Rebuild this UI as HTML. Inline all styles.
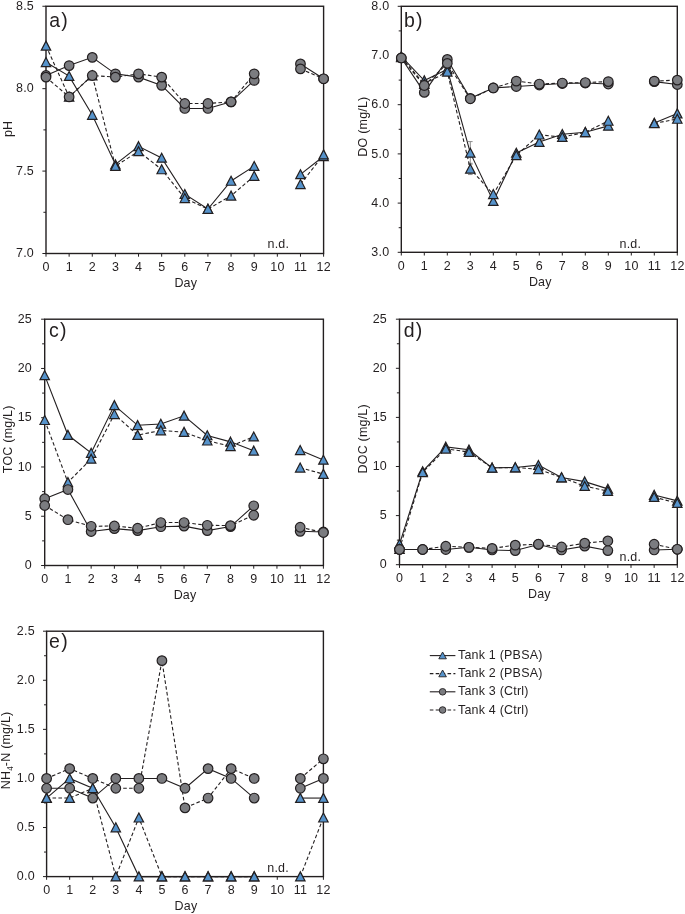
<!DOCTYPE html>
<html><head><meta charset="utf-8"><title>Figure</title>
<style>
html,body{margin:0;padding:0;background:#fff;}
body{width:685px;height:914px;overflow:hidden;font-family:"Liberation Sans", sans-serif;}
svg{display:block;will-change:transform;}
</style></head><body>
<svg width="685" height="914" viewBox="0 0 685 914" font-family='"Liberation Sans", sans-serif' font-size="12.5" letter-spacing="0.2" fill="#231f20"><g><rect x="46" y="6.25" width="277.6" height="247.25" fill="none" stroke="#231f20" stroke-width="1.4"/><line x1="42.4" y1="253.5" x2="46" y2="253.5" stroke="#231f20" stroke-width="1"/><text transform="translate(34 257.25) scale(1 1.04)" text-anchor="end">7.0</text><line x1="43.4" y1="212.29" x2="46" y2="212.29" stroke="#231f20" stroke-width="1"/><line x1="42.4" y1="171.08" x2="46" y2="171.08" stroke="#231f20" stroke-width="1"/><text transform="translate(34 174.83) scale(1 1.04)" text-anchor="end">7.5</text><line x1="43.4" y1="129.88" x2="46" y2="129.88" stroke="#231f20" stroke-width="1"/><line x1="42.4" y1="88.67" x2="46" y2="88.67" stroke="#231f20" stroke-width="1"/><text transform="translate(34 92.42) scale(1 1.04)" text-anchor="end">8.0</text><line x1="43.4" y1="47.46" x2="46" y2="47.46" stroke="#231f20" stroke-width="1"/><line x1="42.4" y1="6.25" x2="46" y2="6.25" stroke="#231f20" stroke-width="1"/><text transform="translate(34 10) scale(1 1.04)" text-anchor="end">8.5</text><line x1="46" y1="253.5" x2="46" y2="256.7" stroke="#231f20" stroke-width="1"/><text transform="translate(46.1 270.9) scale(1 1.04)" text-anchor="middle">0</text><line x1="69.13" y1="253.5" x2="69.13" y2="256.7" stroke="#231f20" stroke-width="1"/><text transform="translate(69.23 270.9) scale(1 1.04)" text-anchor="middle">1</text><line x1="92.27" y1="253.5" x2="92.27" y2="256.7" stroke="#231f20" stroke-width="1"/><text transform="translate(92.37 270.9) scale(1 1.04)" text-anchor="middle">2</text><line x1="115.4" y1="253.5" x2="115.4" y2="256.7" stroke="#231f20" stroke-width="1"/><text transform="translate(115.5 270.9) scale(1 1.04)" text-anchor="middle">3</text><line x1="138.53" y1="253.5" x2="138.53" y2="256.7" stroke="#231f20" stroke-width="1"/><text transform="translate(138.63 270.9) scale(1 1.04)" text-anchor="middle">4</text><line x1="161.67" y1="253.5" x2="161.67" y2="256.7" stroke="#231f20" stroke-width="1"/><text transform="translate(161.77 270.9) scale(1 1.04)" text-anchor="middle">5</text><line x1="184.8" y1="253.5" x2="184.8" y2="256.7" stroke="#231f20" stroke-width="1"/><text transform="translate(184.9 270.9) scale(1 1.04)" text-anchor="middle">6</text><line x1="207.93" y1="253.5" x2="207.93" y2="256.7" stroke="#231f20" stroke-width="1"/><text transform="translate(208.03 270.9) scale(1 1.04)" text-anchor="middle">7</text><line x1="231.07" y1="253.5" x2="231.07" y2="256.7" stroke="#231f20" stroke-width="1"/><text transform="translate(231.17 270.9) scale(1 1.04)" text-anchor="middle">8</text><line x1="254.2" y1="253.5" x2="254.2" y2="256.7" stroke="#231f20" stroke-width="1"/><text transform="translate(254.3 270.9) scale(1 1.04)" text-anchor="middle">9</text><line x1="277.33" y1="253.5" x2="277.33" y2="256.7" stroke="#231f20" stroke-width="1"/><text transform="translate(277.43 270.9) scale(1 1.04)" text-anchor="middle">10</text><line x1="300.47" y1="253.5" x2="300.47" y2="256.7" stroke="#231f20" stroke-width="1"/><text transform="translate(300.57 270.9) scale(1 1.04)" text-anchor="middle">11</text><line x1="323.6" y1="253.5" x2="323.6" y2="256.7" stroke="#231f20" stroke-width="1"/><text transform="translate(323.7 270.9) scale(1 1.04)" text-anchor="middle">12</text><text transform="translate(185.8 286.9) scale(1 1.04)" text-anchor="middle">Day</text><text transform="translate(12.2 128.9) rotate(-90) scale(1 1.04)" text-anchor="middle">pH</text><text transform="translate(49.2 27.1) scale(1 1.04)" font-size="19.5" letter-spacing="1.2">a)</text><text transform="translate(267.5 247.8) scale(1 1.04)">n.d.</text><path d="M46 62.29 L69.13 76.14 L92.27 115.04 L115.4 164.49 L138.53 146.36 L161.67 157.9 L184.8 194.16 L207.93 209 L231.07 180.97 L254.2 166.14" fill="none" stroke="#231f20" stroke-width="1.1"/><path d="M300.47 174.38 L323.6 156.25" fill="none" stroke="#231f20" stroke-width="1.1"/><path d="M46 45.81 L69.13 96.91 L92.27 75.48 L115.4 166.14 L138.53 151.3 L161.67 169.44 L184.8 198.28 L207.93 209 L231.07 195.81 L254.2 176.03" fill="none" stroke="#231f20" stroke-width="1.1" stroke-dasharray="3.6 2.3"/><path d="M300.47 184.27 L323.6 154.6" fill="none" stroke="#231f20" stroke-width="1.1" stroke-dasharray="3.6 2.3"/><path d="M46 75.48 L69.13 65.59 L92.27 57.35 L115.4 73.83 L138.53 77.13 L161.67 85.37 L184.8 108.45 L207.93 108.45 L231.07 101.85 L254.2 80.42" fill="none" stroke="#231f20" stroke-width="1.1"/><path d="M300.47 63.94 L323.6 78.78" fill="none" stroke="#231f20" stroke-width="1.1"/><path d="M46 77.13 L69.13 96.91 L92.27 75.48 L115.4 77.13 L138.53 73.83 L161.67 77.13 L184.8 103.5 L207.93 103.5 L231.07 101.85 L254.2 73.83" fill="none" stroke="#231f20" stroke-width="1.1" stroke-dasharray="3.6 2.3"/><path d="M300.47 68.89 L323.6 78.78" fill="none" stroke="#231f20" stroke-width="1.1" stroke-dasharray="3.6 2.3"/><path d="M46 57.59L50.7 66.59L41.3 66.59Z" fill="#5693cb" stroke="#231f20" stroke-width="1.2" stroke-linejoin="miter"/><path d="M69.13 71.44L73.83 80.44L64.43 80.44Z" fill="#5693cb" stroke="#231f20" stroke-width="1.2" stroke-linejoin="miter"/><path d="M92.27 110.34L96.97 119.34L87.57 119.34Z" fill="#5693cb" stroke="#231f20" stroke-width="1.2" stroke-linejoin="miter"/><path d="M115.4 159.79L120.1 168.79L110.7 168.79Z" fill="#5693cb" stroke="#231f20" stroke-width="1.2" stroke-linejoin="miter"/><path d="M138.53 141.66L143.23 150.66L133.83 150.66Z" fill="#5693cb" stroke="#231f20" stroke-width="1.2" stroke-linejoin="miter"/><path d="M161.67 153.2L166.37 162.2L156.97 162.2Z" fill="#5693cb" stroke="#231f20" stroke-width="1.2" stroke-linejoin="miter"/><path d="M184.8 189.46L189.5 198.46L180.1 198.46Z" fill="#5693cb" stroke="#231f20" stroke-width="1.2" stroke-linejoin="miter"/><path d="M207.93 204.3L212.63 213.3L203.23 213.3Z" fill="#5693cb" stroke="#231f20" stroke-width="1.2" stroke-linejoin="miter"/><path d="M231.07 176.27L235.77 185.27L226.37 185.27Z" fill="#5693cb" stroke="#231f20" stroke-width="1.2" stroke-linejoin="miter"/><path d="M254.2 161.44L258.9 170.44L249.5 170.44Z" fill="#5693cb" stroke="#231f20" stroke-width="1.2" stroke-linejoin="miter"/><path d="M300.47 169.68L305.17 178.68L295.77 178.68Z" fill="#5693cb" stroke="#231f20" stroke-width="1.2" stroke-linejoin="miter"/><path d="M323.6 151.55L328.3 160.55L318.9 160.55Z" fill="#5693cb" stroke="#231f20" stroke-width="1.2" stroke-linejoin="miter"/><path d="M46 41.11L50.7 50.11L41.3 50.11Z" fill="#5693cb" stroke="#231f20" stroke-width="1.2" stroke-linejoin="miter"/><path d="M69.13 92.21L73.83 101.21L64.43 101.21Z" fill="#5693cb" stroke="#231f20" stroke-width="1.2" stroke-linejoin="miter"/><path d="M92.27 70.78L96.97 79.78L87.57 79.78Z" fill="#5693cb" stroke="#231f20" stroke-width="1.2" stroke-linejoin="miter"/><path d="M115.4 161.44L120.1 170.44L110.7 170.44Z" fill="#5693cb" stroke="#231f20" stroke-width="1.2" stroke-linejoin="miter"/><path d="M138.53 146.6L143.23 155.6L133.83 155.6Z" fill="#5693cb" stroke="#231f20" stroke-width="1.2" stroke-linejoin="miter"/><path d="M161.67 164.74L166.37 173.74L156.97 173.74Z" fill="#5693cb" stroke="#231f20" stroke-width="1.2" stroke-linejoin="miter"/><path d="M184.8 193.58L189.5 202.58L180.1 202.58Z" fill="#5693cb" stroke="#231f20" stroke-width="1.2" stroke-linejoin="miter"/><path d="M207.93 204.3L212.63 213.3L203.23 213.3Z" fill="#5693cb" stroke="#231f20" stroke-width="1.2" stroke-linejoin="miter"/><path d="M231.07 191.11L235.77 200.11L226.37 200.11Z" fill="#5693cb" stroke="#231f20" stroke-width="1.2" stroke-linejoin="miter"/><path d="M254.2 171.33L258.9 180.33L249.5 180.33Z" fill="#5693cb" stroke="#231f20" stroke-width="1.2" stroke-linejoin="miter"/><path d="M300.47 179.57L305.17 188.57L295.77 188.57Z" fill="#5693cb" stroke="#231f20" stroke-width="1.2" stroke-linejoin="miter"/><path d="M323.6 149.9L328.3 158.9L318.9 158.9Z" fill="#5693cb" stroke="#231f20" stroke-width="1.2" stroke-linejoin="miter"/><circle cx="46" cy="75.48" r="4.8" fill="#7b7c80" stroke="#231f20" stroke-width="1.2"/><circle cx="69.13" cy="65.59" r="4.8" fill="#7b7c80" stroke="#231f20" stroke-width="1.2"/><circle cx="92.27" cy="57.35" r="4.8" fill="#7b7c80" stroke="#231f20" stroke-width="1.2"/><circle cx="115.4" cy="73.83" r="4.8" fill="#7b7c80" stroke="#231f20" stroke-width="1.2"/><circle cx="138.53" cy="77.13" r="4.8" fill="#7b7c80" stroke="#231f20" stroke-width="1.2"/><circle cx="161.67" cy="85.37" r="4.8" fill="#7b7c80" stroke="#231f20" stroke-width="1.2"/><circle cx="184.8" cy="108.45" r="4.8" fill="#7b7c80" stroke="#231f20" stroke-width="1.2"/><circle cx="207.93" cy="108.45" r="4.8" fill="#7b7c80" stroke="#231f20" stroke-width="1.2"/><circle cx="231.07" cy="101.85" r="4.8" fill="#7b7c80" stroke="#231f20" stroke-width="1.2"/><circle cx="254.2" cy="80.42" r="4.8" fill="#7b7c80" stroke="#231f20" stroke-width="1.2"/><circle cx="300.47" cy="63.94" r="4.8" fill="#7b7c80" stroke="#231f20" stroke-width="1.2"/><circle cx="323.6" cy="78.78" r="4.8" fill="#7b7c80" stroke="#231f20" stroke-width="1.2"/><circle cx="46" cy="77.13" r="4.8" fill="#7b7c80" stroke="#231f20" stroke-width="1.2"/><circle cx="69.13" cy="96.91" r="4.8" fill="#7b7c80" stroke="#231f20" stroke-width="1.2"/><circle cx="92.27" cy="75.48" r="4.8" fill="#7b7c80" stroke="#231f20" stroke-width="1.2"/><circle cx="115.4" cy="77.13" r="4.8" fill="#7b7c80" stroke="#231f20" stroke-width="1.2"/><circle cx="138.53" cy="73.83" r="4.8" fill="#7b7c80" stroke="#231f20" stroke-width="1.2"/><circle cx="161.67" cy="77.13" r="4.8" fill="#7b7c80" stroke="#231f20" stroke-width="1.2"/><circle cx="184.8" cy="103.5" r="4.8" fill="#7b7c80" stroke="#231f20" stroke-width="1.2"/><circle cx="207.93" cy="103.5" r="4.8" fill="#7b7c80" stroke="#231f20" stroke-width="1.2"/><circle cx="231.07" cy="101.85" r="4.8" fill="#7b7c80" stroke="#231f20" stroke-width="1.2"/><circle cx="254.2" cy="73.83" r="4.8" fill="#7b7c80" stroke="#231f20" stroke-width="1.2"/><circle cx="300.47" cy="68.89" r="4.8" fill="#7b7c80" stroke="#231f20" stroke-width="1.2"/><circle cx="323.6" cy="78.78" r="4.8" fill="#7b7c80" stroke="#231f20" stroke-width="1.2"/></g><g><rect x="401.3" y="6.3" width="276" height="246" fill="none" stroke="#231f20" stroke-width="1.4"/><line x1="397.7" y1="252.3" x2="401.3" y2="252.3" stroke="#231f20" stroke-width="1"/><text transform="translate(389.3 256.05) scale(1 1.04)" text-anchor="end">3.0</text><line x1="398.7" y1="227.7" x2="401.3" y2="227.7" stroke="#231f20" stroke-width="1"/><line x1="397.7" y1="203.1" x2="401.3" y2="203.1" stroke="#231f20" stroke-width="1"/><text transform="translate(389.3 206.85) scale(1 1.04)" text-anchor="end">4.0</text><line x1="398.7" y1="178.5" x2="401.3" y2="178.5" stroke="#231f20" stroke-width="1"/><line x1="397.7" y1="153.9" x2="401.3" y2="153.9" stroke="#231f20" stroke-width="1"/><text transform="translate(389.3 157.65) scale(1 1.04)" text-anchor="end">5.0</text><line x1="398.7" y1="129.3" x2="401.3" y2="129.3" stroke="#231f20" stroke-width="1"/><line x1="397.7" y1="104.7" x2="401.3" y2="104.7" stroke="#231f20" stroke-width="1"/><text transform="translate(389.3 108.45) scale(1 1.04)" text-anchor="end">6.0</text><line x1="398.7" y1="80.1" x2="401.3" y2="80.1" stroke="#231f20" stroke-width="1"/><line x1="397.7" y1="55.5" x2="401.3" y2="55.5" stroke="#231f20" stroke-width="1"/><text transform="translate(389.3 59.25) scale(1 1.04)" text-anchor="end">7.0</text><line x1="398.7" y1="30.9" x2="401.3" y2="30.9" stroke="#231f20" stroke-width="1"/><line x1="397.7" y1="6.3" x2="401.3" y2="6.3" stroke="#231f20" stroke-width="1"/><text transform="translate(389.3 10.05) scale(1 1.04)" text-anchor="end">8.0</text><line x1="401.3" y1="252.3" x2="401.3" y2="255.5" stroke="#231f20" stroke-width="1"/><text transform="translate(401.4 269.7) scale(1 1.04)" text-anchor="middle">0</text><line x1="424.3" y1="252.3" x2="424.3" y2="255.5" stroke="#231f20" stroke-width="1"/><text transform="translate(424.4 269.7) scale(1 1.04)" text-anchor="middle">1</text><line x1="447.3" y1="252.3" x2="447.3" y2="255.5" stroke="#231f20" stroke-width="1"/><text transform="translate(447.4 269.7) scale(1 1.04)" text-anchor="middle">2</text><line x1="470.3" y1="252.3" x2="470.3" y2="255.5" stroke="#231f20" stroke-width="1"/><text transform="translate(470.4 269.7) scale(1 1.04)" text-anchor="middle">3</text><line x1="493.3" y1="252.3" x2="493.3" y2="255.5" stroke="#231f20" stroke-width="1"/><text transform="translate(493.4 269.7) scale(1 1.04)" text-anchor="middle">4</text><line x1="516.3" y1="252.3" x2="516.3" y2="255.5" stroke="#231f20" stroke-width="1"/><text transform="translate(516.4 269.7) scale(1 1.04)" text-anchor="middle">5</text><line x1="539.3" y1="252.3" x2="539.3" y2="255.5" stroke="#231f20" stroke-width="1"/><text transform="translate(539.4 269.7) scale(1 1.04)" text-anchor="middle">6</text><line x1="562.3" y1="252.3" x2="562.3" y2="255.5" stroke="#231f20" stroke-width="1"/><text transform="translate(562.4 269.7) scale(1 1.04)" text-anchor="middle">7</text><line x1="585.3" y1="252.3" x2="585.3" y2="255.5" stroke="#231f20" stroke-width="1"/><text transform="translate(585.4 269.7) scale(1 1.04)" text-anchor="middle">8</text><line x1="608.3" y1="252.3" x2="608.3" y2="255.5" stroke="#231f20" stroke-width="1"/><text transform="translate(608.4 269.7) scale(1 1.04)" text-anchor="middle">9</text><line x1="631.3" y1="252.3" x2="631.3" y2="255.5" stroke="#231f20" stroke-width="1"/><text transform="translate(631.4 269.7) scale(1 1.04)" text-anchor="middle">10</text><line x1="654.3" y1="252.3" x2="654.3" y2="255.5" stroke="#231f20" stroke-width="1"/><text transform="translate(654.4 269.7) scale(1 1.04)" text-anchor="middle">11</text><line x1="677.3" y1="252.3" x2="677.3" y2="255.5" stroke="#231f20" stroke-width="1"/><text transform="translate(677.4 269.7) scale(1 1.04)" text-anchor="middle">12</text><text transform="translate(540.3 285.7) scale(1 1.04)" text-anchor="middle">Day</text><text transform="translate(366.6 126.6) rotate(-90) scale(1 1.04)" text-anchor="middle">DO (mg/L)</text><text transform="translate(404 26.6) scale(1 1.04)" font-size="19.5" letter-spacing="1.2">b)</text><text transform="translate(619.5 248) scale(1 1.04)">n.d.</text><path d="M470.3 164.23V141.6M468 141.6H472.6M468 164.23H472.6" stroke="#8c8c8c" stroke-width="1" fill="none"/><path d="M470.3 174.56V163.25M468 163.25H472.6M468 174.56H472.6" stroke="#8c8c8c" stroke-width="1" fill="none"/><path d="M401.3 56.48 L424.3 80.59 L447.3 69.28 L470.3 152.92 L493.3 201.13 L516.3 152.92 L539.3 142.09 L562.3 134.22 L585.3 132.25 L608.3 125.86" fill="none" stroke="#231f20" stroke-width="1.1"/><path d="M654.3 122.9 L677.3 113.56" fill="none" stroke="#231f20" stroke-width="1.1"/><path d="M401.3 57.47 L424.3 84.04 L447.3 71.74 L470.3 168.91 L493.3 194.24 L516.3 155.38 L539.3 134.71 L562.3 137.17 L585.3 132.25 L608.3 120.94" fill="none" stroke="#231f20" stroke-width="1.1" stroke-dasharray="3.6 2.3"/><path d="M654.3 123.4 L677.3 118.97" fill="none" stroke="#231f20" stroke-width="1.1" stroke-dasharray="3.6 2.3"/><path d="M401.3 57.96 L424.3 92.4 L447.3 59.44 L470.3 98.3 L493.3 87.97 L516.3 86.5 L539.3 85.02 L562.3 83.54 L585.3 83.05 L608.3 84.04" fill="none" stroke="#231f20" stroke-width="1.1"/><path d="M654.3 81.58 L677.3 84.53" fill="none" stroke="#231f20" stroke-width="1.1"/><path d="M401.3 57.96 L424.3 85.51 L447.3 63.37 L470.3 98.8 L493.3 87.97 L516.3 81.08 L539.3 84.04 L562.3 83.05 L585.3 82.56 L608.3 81.58" fill="none" stroke="#231f20" stroke-width="1.1" stroke-dasharray="3.6 2.3"/><path d="M654.3 81.08 L677.3 80.1" fill="none" stroke="#231f20" stroke-width="1.1" stroke-dasharray="3.6 2.3"/><path d="M401.3 51.78L406 60.78L396.6 60.78Z" fill="#5693cb" stroke="#231f20" stroke-width="1.2" stroke-linejoin="miter"/><path d="M424.3 75.89L429 84.89L419.6 84.89Z" fill="#5693cb" stroke="#231f20" stroke-width="1.2" stroke-linejoin="miter"/><path d="M447.3 64.58L452 73.58L442.6 73.58Z" fill="#5693cb" stroke="#231f20" stroke-width="1.2" stroke-linejoin="miter"/><path d="M470.3 148.22L475 157.22L465.6 157.22Z" fill="#5693cb" stroke="#231f20" stroke-width="1.2" stroke-linejoin="miter"/><path d="M493.3 196.43L498 205.43L488.6 205.43Z" fill="#5693cb" stroke="#231f20" stroke-width="1.2" stroke-linejoin="miter"/><path d="M516.3 148.22L521 157.22L511.6 157.22Z" fill="#5693cb" stroke="#231f20" stroke-width="1.2" stroke-linejoin="miter"/><path d="M539.3 137.39L544 146.39L534.6 146.39Z" fill="#5693cb" stroke="#231f20" stroke-width="1.2" stroke-linejoin="miter"/><path d="M562.3 129.52L567 138.52L557.6 138.52Z" fill="#5693cb" stroke="#231f20" stroke-width="1.2" stroke-linejoin="miter"/><path d="M585.3 127.55L590 136.55L580.6 136.55Z" fill="#5693cb" stroke="#231f20" stroke-width="1.2" stroke-linejoin="miter"/><path d="M608.3 121.16L613 130.16L603.6 130.16Z" fill="#5693cb" stroke="#231f20" stroke-width="1.2" stroke-linejoin="miter"/><path d="M654.3 118.2L659 127.2L649.6 127.2Z" fill="#5693cb" stroke="#231f20" stroke-width="1.2" stroke-linejoin="miter"/><path d="M677.3 108.86L682 117.86L672.6 117.86Z" fill="#5693cb" stroke="#231f20" stroke-width="1.2" stroke-linejoin="miter"/><path d="M401.3 52.77L406 61.77L396.6 61.77Z" fill="#5693cb" stroke="#231f20" stroke-width="1.2" stroke-linejoin="miter"/><path d="M424.3 79.34L429 88.34L419.6 88.34Z" fill="#5693cb" stroke="#231f20" stroke-width="1.2" stroke-linejoin="miter"/><path d="M447.3 67.04L452 76.04L442.6 76.04Z" fill="#5693cb" stroke="#231f20" stroke-width="1.2" stroke-linejoin="miter"/><path d="M470.3 164.21L475 173.21L465.6 173.21Z" fill="#5693cb" stroke="#231f20" stroke-width="1.2" stroke-linejoin="miter"/><path d="M493.3 189.54L498 198.54L488.6 198.54Z" fill="#5693cb" stroke="#231f20" stroke-width="1.2" stroke-linejoin="miter"/><path d="M516.3 150.68L521 159.68L511.6 159.68Z" fill="#5693cb" stroke="#231f20" stroke-width="1.2" stroke-linejoin="miter"/><path d="M539.3 130.01L544 139.01L534.6 139.01Z" fill="#5693cb" stroke="#231f20" stroke-width="1.2" stroke-linejoin="miter"/><path d="M562.3 132.47L567 141.47L557.6 141.47Z" fill="#5693cb" stroke="#231f20" stroke-width="1.2" stroke-linejoin="miter"/><path d="M585.3 127.55L590 136.55L580.6 136.55Z" fill="#5693cb" stroke="#231f20" stroke-width="1.2" stroke-linejoin="miter"/><path d="M608.3 116.24L613 125.24L603.6 125.24Z" fill="#5693cb" stroke="#231f20" stroke-width="1.2" stroke-linejoin="miter"/><path d="M654.3 118.7L659 127.7L649.6 127.7Z" fill="#5693cb" stroke="#231f20" stroke-width="1.2" stroke-linejoin="miter"/><path d="M677.3 114.27L682 123.27L672.6 123.27Z" fill="#5693cb" stroke="#231f20" stroke-width="1.2" stroke-linejoin="miter"/><circle cx="401.3" cy="57.96" r="4.8" fill="#7b7c80" stroke="#231f20" stroke-width="1.2"/><circle cx="424.3" cy="92.4" r="4.8" fill="#7b7c80" stroke="#231f20" stroke-width="1.2"/><circle cx="447.3" cy="59.44" r="4.8" fill="#7b7c80" stroke="#231f20" stroke-width="1.2"/><circle cx="470.3" cy="98.3" r="4.8" fill="#7b7c80" stroke="#231f20" stroke-width="1.2"/><circle cx="493.3" cy="87.97" r="4.8" fill="#7b7c80" stroke="#231f20" stroke-width="1.2"/><circle cx="516.3" cy="86.5" r="4.8" fill="#7b7c80" stroke="#231f20" stroke-width="1.2"/><circle cx="539.3" cy="85.02" r="4.8" fill="#7b7c80" stroke="#231f20" stroke-width="1.2"/><circle cx="562.3" cy="83.54" r="4.8" fill="#7b7c80" stroke="#231f20" stroke-width="1.2"/><circle cx="585.3" cy="83.05" r="4.8" fill="#7b7c80" stroke="#231f20" stroke-width="1.2"/><circle cx="608.3" cy="84.04" r="4.8" fill="#7b7c80" stroke="#231f20" stroke-width="1.2"/><circle cx="654.3" cy="81.58" r="4.8" fill="#7b7c80" stroke="#231f20" stroke-width="1.2"/><circle cx="677.3" cy="84.53" r="4.8" fill="#7b7c80" stroke="#231f20" stroke-width="1.2"/><circle cx="401.3" cy="57.96" r="4.8" fill="#7b7c80" stroke="#231f20" stroke-width="1.2"/><circle cx="424.3" cy="85.51" r="4.8" fill="#7b7c80" stroke="#231f20" stroke-width="1.2"/><circle cx="447.3" cy="63.37" r="4.8" fill="#7b7c80" stroke="#231f20" stroke-width="1.2"/><circle cx="470.3" cy="98.8" r="4.8" fill="#7b7c80" stroke="#231f20" stroke-width="1.2"/><circle cx="493.3" cy="87.97" r="4.8" fill="#7b7c80" stroke="#231f20" stroke-width="1.2"/><circle cx="516.3" cy="81.08" r="4.8" fill="#7b7c80" stroke="#231f20" stroke-width="1.2"/><circle cx="539.3" cy="84.04" r="4.8" fill="#7b7c80" stroke="#231f20" stroke-width="1.2"/><circle cx="562.3" cy="83.05" r="4.8" fill="#7b7c80" stroke="#231f20" stroke-width="1.2"/><circle cx="585.3" cy="82.56" r="4.8" fill="#7b7c80" stroke="#231f20" stroke-width="1.2"/><circle cx="608.3" cy="81.58" r="4.8" fill="#7b7c80" stroke="#231f20" stroke-width="1.2"/><circle cx="654.3" cy="81.08" r="4.8" fill="#7b7c80" stroke="#231f20" stroke-width="1.2"/><circle cx="677.3" cy="80.1" r="4.8" fill="#7b7c80" stroke="#231f20" stroke-width="1.2"/></g><g><rect x="44.7" y="319.2" width="278.7" height="246.3" fill="none" stroke="#231f20" stroke-width="1.4"/><line x1="41.1" y1="565.5" x2="44.7" y2="565.5" stroke="#231f20" stroke-width="1"/><text transform="translate(32 569.25) scale(1 1.04)" text-anchor="end">0</text><line x1="42.1" y1="540.87" x2="44.7" y2="540.87" stroke="#231f20" stroke-width="1"/><line x1="41.1" y1="516.24" x2="44.7" y2="516.24" stroke="#231f20" stroke-width="1"/><text transform="translate(32 519.99) scale(1 1.04)" text-anchor="end">5</text><line x1="42.1" y1="491.61" x2="44.7" y2="491.61" stroke="#231f20" stroke-width="1"/><line x1="41.1" y1="466.98" x2="44.7" y2="466.98" stroke="#231f20" stroke-width="1"/><text transform="translate(32 470.73) scale(1 1.04)" text-anchor="end">10</text><line x1="42.1" y1="442.35" x2="44.7" y2="442.35" stroke="#231f20" stroke-width="1"/><line x1="41.1" y1="417.72" x2="44.7" y2="417.72" stroke="#231f20" stroke-width="1"/><text transform="translate(32 421.47) scale(1 1.04)" text-anchor="end">15</text><line x1="42.1" y1="393.09" x2="44.7" y2="393.09" stroke="#231f20" stroke-width="1"/><line x1="41.1" y1="368.46" x2="44.7" y2="368.46" stroke="#231f20" stroke-width="1"/><text transform="translate(32 372.21) scale(1 1.04)" text-anchor="end">20</text><line x1="42.1" y1="343.83" x2="44.7" y2="343.83" stroke="#231f20" stroke-width="1"/><line x1="41.1" y1="319.2" x2="44.7" y2="319.2" stroke="#231f20" stroke-width="1"/><text transform="translate(32 322.95) scale(1 1.04)" text-anchor="end">25</text><line x1="44.7" y1="565.5" x2="44.7" y2="568.7" stroke="#231f20" stroke-width="1"/><text transform="translate(44.8 582.9) scale(1 1.04)" text-anchor="middle">0</text><line x1="67.92" y1="565.5" x2="67.92" y2="568.7" stroke="#231f20" stroke-width="1"/><text transform="translate(68.02 582.9) scale(1 1.04)" text-anchor="middle">1</text><line x1="91.15" y1="565.5" x2="91.15" y2="568.7" stroke="#231f20" stroke-width="1"/><text transform="translate(91.25 582.9) scale(1 1.04)" text-anchor="middle">2</text><line x1="114.38" y1="565.5" x2="114.38" y2="568.7" stroke="#231f20" stroke-width="1"/><text transform="translate(114.47 582.9) scale(1 1.04)" text-anchor="middle">3</text><line x1="137.6" y1="565.5" x2="137.6" y2="568.7" stroke="#231f20" stroke-width="1"/><text transform="translate(137.7 582.9) scale(1 1.04)" text-anchor="middle">4</text><line x1="160.82" y1="565.5" x2="160.82" y2="568.7" stroke="#231f20" stroke-width="1"/><text transform="translate(160.92 582.9) scale(1 1.04)" text-anchor="middle">5</text><line x1="184.05" y1="565.5" x2="184.05" y2="568.7" stroke="#231f20" stroke-width="1"/><text transform="translate(184.15 582.9) scale(1 1.04)" text-anchor="middle">6</text><line x1="207.27" y1="565.5" x2="207.27" y2="568.7" stroke="#231f20" stroke-width="1"/><text transform="translate(207.37 582.9) scale(1 1.04)" text-anchor="middle">7</text><line x1="230.5" y1="565.5" x2="230.5" y2="568.7" stroke="#231f20" stroke-width="1"/><text transform="translate(230.6 582.9) scale(1 1.04)" text-anchor="middle">8</text><line x1="253.72" y1="565.5" x2="253.72" y2="568.7" stroke="#231f20" stroke-width="1"/><text transform="translate(253.82 582.9) scale(1 1.04)" text-anchor="middle">9</text><line x1="276.95" y1="565.5" x2="276.95" y2="568.7" stroke="#231f20" stroke-width="1"/><text transform="translate(277.05 582.9) scale(1 1.04)" text-anchor="middle">10</text><line x1="300.17" y1="565.5" x2="300.17" y2="568.7" stroke="#231f20" stroke-width="1"/><text transform="translate(300.27 582.9) scale(1 1.04)" text-anchor="middle">11</text><line x1="323.4" y1="565.5" x2="323.4" y2="568.7" stroke="#231f20" stroke-width="1"/><text transform="translate(323.5 582.9) scale(1 1.04)" text-anchor="middle">12</text><text transform="translate(185.05 598.9) scale(1 1.04)" text-anchor="middle">Day</text><text transform="translate(12.2 439.3) rotate(-90) scale(1 1.04)" text-anchor="middle">TOC (mg/L)</text><text transform="translate(49.1 336.6) scale(1 1.04)" font-size="19.5" letter-spacing="1.2">c)</text><path d="M44.7 375.36 L67.92 435.06 L91.15 452.99 L114.38 405.31 L137.6 425.31 L160.82 423.93 L184.05 415.85 L207.27 435.45 L230.5 441.86 L253.72 450.82" fill="none" stroke="#231f20" stroke-width="1.1"/><path d="M300.17 450.23 L323.4 459.89" fill="none" stroke="#231f20" stroke-width="1.1"/><path d="M44.7 420.18 L67.92 482.35 L91.15 458.9 L114.38 414.27 L137.6 435.06 L160.82 430.53 L184.05 432.1 L207.27 440.68 L230.5 446.29 L253.72 436.64" fill="none" stroke="#231f20" stroke-width="1.1" stroke-dasharray="3.6 2.3"/><path d="M300.17 467.77 L323.4 474.07" fill="none" stroke="#231f20" stroke-width="1.1" stroke-dasharray="3.6 2.3"/><path d="M44.7 498.7 L67.92 489.54 L91.15 531.51 L114.38 528.65 L137.6 530.62 L160.82 526.68 L184.05 526.09 L207.27 530.62 L230.5 526.58 L253.72 505.8" fill="none" stroke="#231f20" stroke-width="1.1"/><path d="M300.17 531.31 L323.4 532" fill="none" stroke="#231f20" stroke-width="1.1"/><path d="M44.7 505.5 L67.92 519.69 L91.15 526.29 L114.38 525.99 L137.6 528.26 L160.82 522.55 L184.05 522.55 L207.27 525.3 L230.5 525.6 L253.72 515.25" fill="none" stroke="#231f20" stroke-width="1.1" stroke-dasharray="3.6 2.3"/><path d="M300.17 527.27 L323.4 532.5" fill="none" stroke="#231f20" stroke-width="1.1" stroke-dasharray="3.6 2.3"/><path d="M44.7 370.66L49.4 379.66L40 379.66Z" fill="#5693cb" stroke="#231f20" stroke-width="1.2" stroke-linejoin="miter"/><path d="M67.92 430.36L72.62 439.36L63.22 439.36Z" fill="#5693cb" stroke="#231f20" stroke-width="1.2" stroke-linejoin="miter"/><path d="M91.15 448.29L95.85 457.29L86.45 457.29Z" fill="#5693cb" stroke="#231f20" stroke-width="1.2" stroke-linejoin="miter"/><path d="M114.38 400.61L119.08 409.61L109.67 409.61Z" fill="#5693cb" stroke="#231f20" stroke-width="1.2" stroke-linejoin="miter"/><path d="M137.6 420.61L142.3 429.61L132.9 429.61Z" fill="#5693cb" stroke="#231f20" stroke-width="1.2" stroke-linejoin="miter"/><path d="M160.82 419.23L165.52 428.23L156.12 428.23Z" fill="#5693cb" stroke="#231f20" stroke-width="1.2" stroke-linejoin="miter"/><path d="M184.05 411.15L188.75 420.15L179.35 420.15Z" fill="#5693cb" stroke="#231f20" stroke-width="1.2" stroke-linejoin="miter"/><path d="M207.27 430.75L211.97 439.75L202.57 439.75Z" fill="#5693cb" stroke="#231f20" stroke-width="1.2" stroke-linejoin="miter"/><path d="M230.5 437.16L235.2 446.16L225.8 446.16Z" fill="#5693cb" stroke="#231f20" stroke-width="1.2" stroke-linejoin="miter"/><path d="M253.72 446.12L258.42 455.12L249.02 455.12Z" fill="#5693cb" stroke="#231f20" stroke-width="1.2" stroke-linejoin="miter"/><path d="M300.17 445.53L304.87 454.53L295.47 454.53Z" fill="#5693cb" stroke="#231f20" stroke-width="1.2" stroke-linejoin="miter"/><path d="M323.4 455.19L328.1 464.19L318.7 464.19Z" fill="#5693cb" stroke="#231f20" stroke-width="1.2" stroke-linejoin="miter"/><path d="M44.7 415.48L49.4 424.48L40 424.48Z" fill="#5693cb" stroke="#231f20" stroke-width="1.2" stroke-linejoin="miter"/><path d="M67.92 477.65L72.62 486.65L63.22 486.65Z" fill="#5693cb" stroke="#231f20" stroke-width="1.2" stroke-linejoin="miter"/><path d="M91.15 454.2L95.85 463.2L86.45 463.2Z" fill="#5693cb" stroke="#231f20" stroke-width="1.2" stroke-linejoin="miter"/><path d="M114.38 409.57L119.08 418.57L109.67 418.57Z" fill="#5693cb" stroke="#231f20" stroke-width="1.2" stroke-linejoin="miter"/><path d="M137.6 430.36L142.3 439.36L132.9 439.36Z" fill="#5693cb" stroke="#231f20" stroke-width="1.2" stroke-linejoin="miter"/><path d="M160.82 425.83L165.52 434.83L156.12 434.83Z" fill="#5693cb" stroke="#231f20" stroke-width="1.2" stroke-linejoin="miter"/><path d="M184.05 427.4L188.75 436.4L179.35 436.4Z" fill="#5693cb" stroke="#231f20" stroke-width="1.2" stroke-linejoin="miter"/><path d="M207.27 435.98L211.97 444.98L202.57 444.98Z" fill="#5693cb" stroke="#231f20" stroke-width="1.2" stroke-linejoin="miter"/><path d="M230.5 441.59L235.2 450.59L225.8 450.59Z" fill="#5693cb" stroke="#231f20" stroke-width="1.2" stroke-linejoin="miter"/><path d="M253.72 431.94L258.42 440.94L249.02 440.94Z" fill="#5693cb" stroke="#231f20" stroke-width="1.2" stroke-linejoin="miter"/><path d="M300.17 463.07L304.87 472.07L295.47 472.07Z" fill="#5693cb" stroke="#231f20" stroke-width="1.2" stroke-linejoin="miter"/><path d="M323.4 469.37L328.1 478.37L318.7 478.37Z" fill="#5693cb" stroke="#231f20" stroke-width="1.2" stroke-linejoin="miter"/><circle cx="44.7" cy="498.7" r="4.8" fill="#7b7c80" stroke="#231f20" stroke-width="1.2"/><circle cx="67.92" cy="489.54" r="4.8" fill="#7b7c80" stroke="#231f20" stroke-width="1.2"/><circle cx="91.15" cy="531.51" r="4.8" fill="#7b7c80" stroke="#231f20" stroke-width="1.2"/><circle cx="114.38" cy="528.65" r="4.8" fill="#7b7c80" stroke="#231f20" stroke-width="1.2"/><circle cx="137.6" cy="530.62" r="4.8" fill="#7b7c80" stroke="#231f20" stroke-width="1.2"/><circle cx="160.82" cy="526.68" r="4.8" fill="#7b7c80" stroke="#231f20" stroke-width="1.2"/><circle cx="184.05" cy="526.09" r="4.8" fill="#7b7c80" stroke="#231f20" stroke-width="1.2"/><circle cx="207.27" cy="530.62" r="4.8" fill="#7b7c80" stroke="#231f20" stroke-width="1.2"/><circle cx="230.5" cy="526.58" r="4.8" fill="#7b7c80" stroke="#231f20" stroke-width="1.2"/><circle cx="253.72" cy="505.8" r="4.8" fill="#7b7c80" stroke="#231f20" stroke-width="1.2"/><circle cx="300.17" cy="531.31" r="4.8" fill="#7b7c80" stroke="#231f20" stroke-width="1.2"/><circle cx="323.4" cy="532" r="4.8" fill="#7b7c80" stroke="#231f20" stroke-width="1.2"/><circle cx="44.7" cy="505.5" r="4.8" fill="#7b7c80" stroke="#231f20" stroke-width="1.2"/><circle cx="67.92" cy="519.69" r="4.8" fill="#7b7c80" stroke="#231f20" stroke-width="1.2"/><circle cx="91.15" cy="526.29" r="4.8" fill="#7b7c80" stroke="#231f20" stroke-width="1.2"/><circle cx="114.38" cy="525.99" r="4.8" fill="#7b7c80" stroke="#231f20" stroke-width="1.2"/><circle cx="137.6" cy="528.26" r="4.8" fill="#7b7c80" stroke="#231f20" stroke-width="1.2"/><circle cx="160.82" cy="522.55" r="4.8" fill="#7b7c80" stroke="#231f20" stroke-width="1.2"/><circle cx="184.05" cy="522.55" r="4.8" fill="#7b7c80" stroke="#231f20" stroke-width="1.2"/><circle cx="207.27" cy="525.3" r="4.8" fill="#7b7c80" stroke="#231f20" stroke-width="1.2"/><circle cx="230.5" cy="525.6" r="4.8" fill="#7b7c80" stroke="#231f20" stroke-width="1.2"/><circle cx="253.72" cy="515.25" r="4.8" fill="#7b7c80" stroke="#231f20" stroke-width="1.2"/><circle cx="300.17" cy="527.27" r="4.8" fill="#7b7c80" stroke="#231f20" stroke-width="1.2"/><circle cx="323.4" cy="532.5" r="4.8" fill="#7b7c80" stroke="#231f20" stroke-width="1.2"/></g><g><rect x="399.5" y="319.2" width="277.8" height="245.5" fill="none" stroke="#231f20" stroke-width="1.4"/><line x1="395.9" y1="564.7" x2="399.5" y2="564.7" stroke="#231f20" stroke-width="1"/><text transform="translate(387 568.45) scale(1 1.04)" text-anchor="end">0</text><line x1="396.9" y1="540.15" x2="399.5" y2="540.15" stroke="#231f20" stroke-width="1"/><line x1="395.9" y1="515.6" x2="399.5" y2="515.6" stroke="#231f20" stroke-width="1"/><text transform="translate(387 519.35) scale(1 1.04)" text-anchor="end">5</text><line x1="396.9" y1="491.05" x2="399.5" y2="491.05" stroke="#231f20" stroke-width="1"/><line x1="395.9" y1="466.5" x2="399.5" y2="466.5" stroke="#231f20" stroke-width="1"/><text transform="translate(387 470.25) scale(1 1.04)" text-anchor="end">10</text><line x1="396.9" y1="441.95" x2="399.5" y2="441.95" stroke="#231f20" stroke-width="1"/><line x1="395.9" y1="417.4" x2="399.5" y2="417.4" stroke="#231f20" stroke-width="1"/><text transform="translate(387 421.15) scale(1 1.04)" text-anchor="end">15</text><line x1="396.9" y1="392.85" x2="399.5" y2="392.85" stroke="#231f20" stroke-width="1"/><line x1="395.9" y1="368.3" x2="399.5" y2="368.3" stroke="#231f20" stroke-width="1"/><text transform="translate(387 372.05) scale(1 1.04)" text-anchor="end">20</text><line x1="396.9" y1="343.75" x2="399.5" y2="343.75" stroke="#231f20" stroke-width="1"/><line x1="395.9" y1="319.2" x2="399.5" y2="319.2" stroke="#231f20" stroke-width="1"/><text transform="translate(387 322.95) scale(1 1.04)" text-anchor="end">25</text><line x1="399.5" y1="564.7" x2="399.5" y2="567.9" stroke="#231f20" stroke-width="1"/><text transform="translate(399.6 582.1) scale(1 1.04)" text-anchor="middle">0</text><line x1="422.65" y1="564.7" x2="422.65" y2="567.9" stroke="#231f20" stroke-width="1"/><text transform="translate(422.75 582.1) scale(1 1.04)" text-anchor="middle">1</text><line x1="445.8" y1="564.7" x2="445.8" y2="567.9" stroke="#231f20" stroke-width="1"/><text transform="translate(445.9 582.1) scale(1 1.04)" text-anchor="middle">2</text><line x1="468.95" y1="564.7" x2="468.95" y2="567.9" stroke="#231f20" stroke-width="1"/><text transform="translate(469.05 582.1) scale(1 1.04)" text-anchor="middle">3</text><line x1="492.1" y1="564.7" x2="492.1" y2="567.9" stroke="#231f20" stroke-width="1"/><text transform="translate(492.2 582.1) scale(1 1.04)" text-anchor="middle">4</text><line x1="515.25" y1="564.7" x2="515.25" y2="567.9" stroke="#231f20" stroke-width="1"/><text transform="translate(515.35 582.1) scale(1 1.04)" text-anchor="middle">5</text><line x1="538.4" y1="564.7" x2="538.4" y2="567.9" stroke="#231f20" stroke-width="1"/><text transform="translate(538.5 582.1) scale(1 1.04)" text-anchor="middle">6</text><line x1="561.55" y1="564.7" x2="561.55" y2="567.9" stroke="#231f20" stroke-width="1"/><text transform="translate(561.65 582.1) scale(1 1.04)" text-anchor="middle">7</text><line x1="584.7" y1="564.7" x2="584.7" y2="567.9" stroke="#231f20" stroke-width="1"/><text transform="translate(584.8 582.1) scale(1 1.04)" text-anchor="middle">8</text><line x1="607.85" y1="564.7" x2="607.85" y2="567.9" stroke="#231f20" stroke-width="1"/><text transform="translate(607.95 582.1) scale(1 1.04)" text-anchor="middle">9</text><line x1="631" y1="564.7" x2="631" y2="567.9" stroke="#231f20" stroke-width="1"/><text transform="translate(631.1 582.1) scale(1 1.04)" text-anchor="middle">10</text><line x1="654.15" y1="564.7" x2="654.15" y2="567.9" stroke="#231f20" stroke-width="1"/><text transform="translate(654.25 582.1) scale(1 1.04)" text-anchor="middle">11</text><line x1="677.3" y1="564.7" x2="677.3" y2="567.9" stroke="#231f20" stroke-width="1"/><text transform="translate(677.4 582.1) scale(1 1.04)" text-anchor="middle">12</text><text transform="translate(539.4 598.1) scale(1 1.04)" text-anchor="middle">Day</text><text transform="translate(366.8 438.8) rotate(-90) scale(1 1.04)" text-anchor="middle">DOC (mg/L)</text><text transform="translate(403.8 336.6) scale(1 1.04)" font-size="19.5" letter-spacing="1.2">d)</text><text transform="translate(619.5 561) scale(1 1.04)">n.d.</text><path d="M399.5 544.08 L422.65 471.41 L445.8 446.86 L468.95 449.81 L492.1 467.87 L515.25 467.48 L538.4 465.13 L561.55 477.5 L584.7 481.62 L607.85 488.89" fill="none" stroke="#231f20" stroke-width="1.1"/><path d="M654.15 494.98 L677.3 500.87" fill="none" stroke="#231f20" stroke-width="1.1"/><path d="M399.5 548.99 L422.65 472.39 L445.8 448.82 L468.95 452.06 L492.1 467.87 L515.25 467.48 L538.4 469.25 L561.55 477.5 L584.7 486.14 L607.85 491.05" fill="none" stroke="#231f20" stroke-width="1.1" stroke-dasharray="3.6 2.3"/><path d="M654.15 497.14 L677.3 503.13" fill="none" stroke="#231f20" stroke-width="1.1" stroke-dasharray="3.6 2.3"/><path d="M399.5 549.48 L422.65 549.48 L445.8 549.48 L468.95 547.32 L492.1 549.97 L515.25 550.56 L538.4 544.47 L561.55 549.97 L584.7 546.14 L607.85 550.56" fill="none" stroke="#231f20" stroke-width="1.1"/><path d="M654.15 549.97 L677.3 549.28" fill="none" stroke="#231f20" stroke-width="1.1"/><path d="M399.5 549.48 L422.65 549.48 L445.8 546.24 L468.95 547.32 L492.1 548.4 L515.25 545.16 L538.4 544.27 L561.55 547.02 L584.7 543.19 L607.85 540.94" fill="none" stroke="#231f20" stroke-width="1.1" stroke-dasharray="3.6 2.3"/><path d="M654.15 544.27 L677.3 549.28" fill="none" stroke="#231f20" stroke-width="1.1" stroke-dasharray="3.6 2.3"/><path d="M399.5 539.38L404.2 548.38L394.8 548.38Z" fill="#5693cb" stroke="#231f20" stroke-width="1.2" stroke-linejoin="miter"/><path d="M422.65 466.71L427.35 475.71L417.95 475.71Z" fill="#5693cb" stroke="#231f20" stroke-width="1.2" stroke-linejoin="miter"/><path d="M445.8 442.16L450.5 451.16L441.1 451.16Z" fill="#5693cb" stroke="#231f20" stroke-width="1.2" stroke-linejoin="miter"/><path d="M468.95 445.11L473.65 454.11L464.25 454.11Z" fill="#5693cb" stroke="#231f20" stroke-width="1.2" stroke-linejoin="miter"/><path d="M492.1 463.17L496.8 472.17L487.4 472.17Z" fill="#5693cb" stroke="#231f20" stroke-width="1.2" stroke-linejoin="miter"/><path d="M515.25 462.78L519.95 471.78L510.55 471.78Z" fill="#5693cb" stroke="#231f20" stroke-width="1.2" stroke-linejoin="miter"/><path d="M538.4 460.43L543.1 469.43L533.7 469.43Z" fill="#5693cb" stroke="#231f20" stroke-width="1.2" stroke-linejoin="miter"/><path d="M561.55 472.8L566.25 481.8L556.85 481.8Z" fill="#5693cb" stroke="#231f20" stroke-width="1.2" stroke-linejoin="miter"/><path d="M584.7 476.92L589.4 485.92L580 485.92Z" fill="#5693cb" stroke="#231f20" stroke-width="1.2" stroke-linejoin="miter"/><path d="M607.85 484.19L612.55 493.19L603.15 493.19Z" fill="#5693cb" stroke="#231f20" stroke-width="1.2" stroke-linejoin="miter"/><path d="M654.15 490.28L658.85 499.28L649.45 499.28Z" fill="#5693cb" stroke="#231f20" stroke-width="1.2" stroke-linejoin="miter"/><path d="M677.3 496.17L682 505.17L672.6 505.17Z" fill="#5693cb" stroke="#231f20" stroke-width="1.2" stroke-linejoin="miter"/><path d="M399.5 544.29L404.2 553.29L394.8 553.29Z" fill="#5693cb" stroke="#231f20" stroke-width="1.2" stroke-linejoin="miter"/><path d="M422.65 467.69L427.35 476.69L417.95 476.69Z" fill="#5693cb" stroke="#231f20" stroke-width="1.2" stroke-linejoin="miter"/><path d="M445.8 444.12L450.5 453.12L441.1 453.12Z" fill="#5693cb" stroke="#231f20" stroke-width="1.2" stroke-linejoin="miter"/><path d="M468.95 447.36L473.65 456.36L464.25 456.36Z" fill="#5693cb" stroke="#231f20" stroke-width="1.2" stroke-linejoin="miter"/><path d="M492.1 463.17L496.8 472.17L487.4 472.17Z" fill="#5693cb" stroke="#231f20" stroke-width="1.2" stroke-linejoin="miter"/><path d="M515.25 462.78L519.95 471.78L510.55 471.78Z" fill="#5693cb" stroke="#231f20" stroke-width="1.2" stroke-linejoin="miter"/><path d="M538.4 464.55L543.1 473.55L533.7 473.55Z" fill="#5693cb" stroke="#231f20" stroke-width="1.2" stroke-linejoin="miter"/><path d="M561.55 472.8L566.25 481.8L556.85 481.8Z" fill="#5693cb" stroke="#231f20" stroke-width="1.2" stroke-linejoin="miter"/><path d="M584.7 481.44L589.4 490.44L580 490.44Z" fill="#5693cb" stroke="#231f20" stroke-width="1.2" stroke-linejoin="miter"/><path d="M607.85 486.35L612.55 495.35L603.15 495.35Z" fill="#5693cb" stroke="#231f20" stroke-width="1.2" stroke-linejoin="miter"/><path d="M654.15 492.44L658.85 501.44L649.45 501.44Z" fill="#5693cb" stroke="#231f20" stroke-width="1.2" stroke-linejoin="miter"/><path d="M677.3 498.43L682 507.43L672.6 507.43Z" fill="#5693cb" stroke="#231f20" stroke-width="1.2" stroke-linejoin="miter"/><circle cx="399.5" cy="549.48" r="4.8" fill="#7b7c80" stroke="#231f20" stroke-width="1.2"/><circle cx="422.65" cy="549.48" r="4.8" fill="#7b7c80" stroke="#231f20" stroke-width="1.2"/><circle cx="445.8" cy="549.48" r="4.8" fill="#7b7c80" stroke="#231f20" stroke-width="1.2"/><circle cx="468.95" cy="547.32" r="4.8" fill="#7b7c80" stroke="#231f20" stroke-width="1.2"/><circle cx="492.1" cy="549.97" r="4.8" fill="#7b7c80" stroke="#231f20" stroke-width="1.2"/><circle cx="515.25" cy="550.56" r="4.8" fill="#7b7c80" stroke="#231f20" stroke-width="1.2"/><circle cx="538.4" cy="544.47" r="4.8" fill="#7b7c80" stroke="#231f20" stroke-width="1.2"/><circle cx="561.55" cy="549.97" r="4.8" fill="#7b7c80" stroke="#231f20" stroke-width="1.2"/><circle cx="584.7" cy="546.14" r="4.8" fill="#7b7c80" stroke="#231f20" stroke-width="1.2"/><circle cx="607.85" cy="550.56" r="4.8" fill="#7b7c80" stroke="#231f20" stroke-width="1.2"/><circle cx="654.15" cy="549.97" r="4.8" fill="#7b7c80" stroke="#231f20" stroke-width="1.2"/><circle cx="677.3" cy="549.28" r="4.8" fill="#7b7c80" stroke="#231f20" stroke-width="1.2"/><circle cx="399.5" cy="549.48" r="4.8" fill="#7b7c80" stroke="#231f20" stroke-width="1.2"/><circle cx="422.65" cy="549.48" r="4.8" fill="#7b7c80" stroke="#231f20" stroke-width="1.2"/><circle cx="445.8" cy="546.24" r="4.8" fill="#7b7c80" stroke="#231f20" stroke-width="1.2"/><circle cx="468.95" cy="547.32" r="4.8" fill="#7b7c80" stroke="#231f20" stroke-width="1.2"/><circle cx="492.1" cy="548.4" r="4.8" fill="#7b7c80" stroke="#231f20" stroke-width="1.2"/><circle cx="515.25" cy="545.16" r="4.8" fill="#7b7c80" stroke="#231f20" stroke-width="1.2"/><circle cx="538.4" cy="544.27" r="4.8" fill="#7b7c80" stroke="#231f20" stroke-width="1.2"/><circle cx="561.55" cy="547.02" r="4.8" fill="#7b7c80" stroke="#231f20" stroke-width="1.2"/><circle cx="584.7" cy="543.19" r="4.8" fill="#7b7c80" stroke="#231f20" stroke-width="1.2"/><circle cx="607.85" cy="540.94" r="4.8" fill="#7b7c80" stroke="#231f20" stroke-width="1.2"/><circle cx="654.15" cy="544.27" r="4.8" fill="#7b7c80" stroke="#231f20" stroke-width="1.2"/><circle cx="677.3" cy="549.28" r="4.8" fill="#7b7c80" stroke="#231f20" stroke-width="1.2"/></g><g><rect x="46.6" y="631.2" width="276.8" height="245.4" fill="none" stroke="#231f20" stroke-width="1.4"/><line x1="43" y1="876.6" x2="46.6" y2="876.6" stroke="#231f20" stroke-width="1"/><text transform="translate(34.8 880.35) scale(1 1.04)" text-anchor="end">0.0</text><line x1="44" y1="852.06" x2="46.6" y2="852.06" stroke="#231f20" stroke-width="1"/><line x1="43" y1="827.52" x2="46.6" y2="827.52" stroke="#231f20" stroke-width="1"/><text transform="translate(34.8 831.27) scale(1 1.04)" text-anchor="end">0.5</text><line x1="44" y1="802.98" x2="46.6" y2="802.98" stroke="#231f20" stroke-width="1"/><line x1="43" y1="778.44" x2="46.6" y2="778.44" stroke="#231f20" stroke-width="1"/><text transform="translate(34.8 782.19) scale(1 1.04)" text-anchor="end">1.0</text><line x1="44" y1="753.9" x2="46.6" y2="753.9" stroke="#231f20" stroke-width="1"/><line x1="43" y1="729.36" x2="46.6" y2="729.36" stroke="#231f20" stroke-width="1"/><text transform="translate(34.8 733.11) scale(1 1.04)" text-anchor="end">1.5</text><line x1="44" y1="704.82" x2="46.6" y2="704.82" stroke="#231f20" stroke-width="1"/><line x1="43" y1="680.28" x2="46.6" y2="680.28" stroke="#231f20" stroke-width="1"/><text transform="translate(34.8 684.03) scale(1 1.04)" text-anchor="end">2.0</text><line x1="44" y1="655.74" x2="46.6" y2="655.74" stroke="#231f20" stroke-width="1"/><line x1="43" y1="631.2" x2="46.6" y2="631.2" stroke="#231f20" stroke-width="1"/><text transform="translate(34.8 634.95) scale(1 1.04)" text-anchor="end">2.5</text><line x1="46.6" y1="876.6" x2="46.6" y2="879.8" stroke="#231f20" stroke-width="1"/><text transform="translate(46.7 894) scale(1 1.04)" text-anchor="middle">0</text><line x1="69.67" y1="876.6" x2="69.67" y2="879.8" stroke="#231f20" stroke-width="1"/><text transform="translate(69.77 894) scale(1 1.04)" text-anchor="middle">1</text><line x1="92.73" y1="876.6" x2="92.73" y2="879.8" stroke="#231f20" stroke-width="1"/><text transform="translate(92.83 894) scale(1 1.04)" text-anchor="middle">2</text><line x1="115.8" y1="876.6" x2="115.8" y2="879.8" stroke="#231f20" stroke-width="1"/><text transform="translate(115.9 894) scale(1 1.04)" text-anchor="middle">3</text><line x1="138.87" y1="876.6" x2="138.87" y2="879.8" stroke="#231f20" stroke-width="1"/><text transform="translate(138.97 894) scale(1 1.04)" text-anchor="middle">4</text><line x1="161.93" y1="876.6" x2="161.93" y2="879.8" stroke="#231f20" stroke-width="1"/><text transform="translate(162.03 894) scale(1 1.04)" text-anchor="middle">5</text><line x1="185" y1="876.6" x2="185" y2="879.8" stroke="#231f20" stroke-width="1"/><text transform="translate(185.1 894) scale(1 1.04)" text-anchor="middle">6</text><line x1="208.07" y1="876.6" x2="208.07" y2="879.8" stroke="#231f20" stroke-width="1"/><text transform="translate(208.17 894) scale(1 1.04)" text-anchor="middle">7</text><line x1="231.13" y1="876.6" x2="231.13" y2="879.8" stroke="#231f20" stroke-width="1"/><text transform="translate(231.23 894) scale(1 1.04)" text-anchor="middle">8</text><line x1="254.2" y1="876.6" x2="254.2" y2="879.8" stroke="#231f20" stroke-width="1"/><text transform="translate(254.3 894) scale(1 1.04)" text-anchor="middle">9</text><line x1="277.27" y1="876.6" x2="277.27" y2="879.8" stroke="#231f20" stroke-width="1"/><text transform="translate(277.37 894) scale(1 1.04)" text-anchor="middle">10</text><line x1="300.33" y1="876.6" x2="300.33" y2="879.8" stroke="#231f20" stroke-width="1"/><text transform="translate(300.43 894) scale(1 1.04)" text-anchor="middle">11</text><line x1="323.4" y1="876.6" x2="323.4" y2="879.8" stroke="#231f20" stroke-width="1"/><text transform="translate(323.5 894) scale(1 1.04)" text-anchor="middle">12</text><text transform="translate(186 910) scale(1 1.04)" text-anchor="middle">Day</text><text transform="translate(9.9 750.4) rotate(-90) scale(1 1.04)" text-anchor="middle">NH<tspan font-size="8" dy="3">4</tspan><tspan dy="-3">-N (mg/L)</tspan></text><text transform="translate(49.1 647.6) scale(1 1.04)" font-size="19.5" letter-spacing="1.2">e)</text><text transform="translate(267.3 872) scale(1 1.04)">n.d.</text><path d="M46.6 798.07 L69.67 778.44 L92.73 788.26 L115.8 827.52 L138.87 876.6 L161.93 876.6 L185 876.6 L208.07 876.6 L231.13 876.6 L254.2 876.6" fill="none" stroke="#231f20" stroke-width="1.1"/><path d="M300.33 798.07 L323.4 798.07" fill="none" stroke="#231f20" stroke-width="1.1"/><path d="M46.6 798.07 L69.67 798.07 L92.73 788.26 L115.8 876.6 L138.87 817.7 L161.93 876.6 L185 876.6 L208.07 876.6 L231.13 876.6 L254.2 876.6" fill="none" stroke="#231f20" stroke-width="1.1" stroke-dasharray="3.6 2.3"/><path d="M300.33 876.6 L323.4 817.7" fill="none" stroke="#231f20" stroke-width="1.1" stroke-dasharray="3.6 2.3"/><path d="M46.6 788.26 L69.67 788.26 L92.73 798.07 L115.8 778.44 L138.87 778.44 L161.93 778.44 L185 788.26 L208.07 768.62 L231.13 778.44 L254.2 798.07" fill="none" stroke="#231f20" stroke-width="1.1"/><path d="M300.33 788.26 L323.4 778.44" fill="none" stroke="#231f20" stroke-width="1.1"/><path d="M46.6 778.44 L69.67 768.62 L92.73 778.44 L115.8 788.26 L138.87 788.26 L161.93 660.65 L185 807.89 L208.07 798.07 L231.13 768.62 L254.2 778.44" fill="none" stroke="#231f20" stroke-width="1.1" stroke-dasharray="3.6 2.3"/><path d="M300.33 778.44 L323.4 758.81" fill="none" stroke="#231f20" stroke-width="1.1" stroke-dasharray="3.6 2.3"/><path d="M46.6 793.37L51.3 802.37L41.9 802.37Z" fill="#5693cb" stroke="#231f20" stroke-width="1.2" stroke-linejoin="miter"/><path d="M69.67 773.74L74.37 782.74L64.97 782.74Z" fill="#5693cb" stroke="#231f20" stroke-width="1.2" stroke-linejoin="miter"/><path d="M92.73 783.56L97.43 792.56L88.03 792.56Z" fill="#5693cb" stroke="#231f20" stroke-width="1.2" stroke-linejoin="miter"/><path d="M115.8 822.82L120.5 831.82L111.1 831.82Z" fill="#5693cb" stroke="#231f20" stroke-width="1.2" stroke-linejoin="miter"/><path d="M138.87 871.9L143.57 880.9L134.17 880.9Z" fill="#5693cb" stroke="#231f20" stroke-width="1.2" stroke-linejoin="miter"/><path d="M161.93 871.9L166.63 880.9L157.23 880.9Z" fill="#5693cb" stroke="#231f20" stroke-width="1.2" stroke-linejoin="miter"/><path d="M185 871.9L189.7 880.9L180.3 880.9Z" fill="#5693cb" stroke="#231f20" stroke-width="1.2" stroke-linejoin="miter"/><path d="M208.07 871.9L212.77 880.9L203.37 880.9Z" fill="#5693cb" stroke="#231f20" stroke-width="1.2" stroke-linejoin="miter"/><path d="M231.13 871.9L235.83 880.9L226.43 880.9Z" fill="#5693cb" stroke="#231f20" stroke-width="1.2" stroke-linejoin="miter"/><path d="M254.2 871.9L258.9 880.9L249.5 880.9Z" fill="#5693cb" stroke="#231f20" stroke-width="1.2" stroke-linejoin="miter"/><path d="M300.33 793.37L305.03 802.37L295.63 802.37Z" fill="#5693cb" stroke="#231f20" stroke-width="1.2" stroke-linejoin="miter"/><path d="M323.4 793.37L328.1 802.37L318.7 802.37Z" fill="#5693cb" stroke="#231f20" stroke-width="1.2" stroke-linejoin="miter"/><path d="M46.6 793.37L51.3 802.37L41.9 802.37Z" fill="#5693cb" stroke="#231f20" stroke-width="1.2" stroke-linejoin="miter"/><path d="M69.67 793.37L74.37 802.37L64.97 802.37Z" fill="#5693cb" stroke="#231f20" stroke-width="1.2" stroke-linejoin="miter"/><path d="M92.73 783.56L97.43 792.56L88.03 792.56Z" fill="#5693cb" stroke="#231f20" stroke-width="1.2" stroke-linejoin="miter"/><path d="M115.8 871.9L120.5 880.9L111.1 880.9Z" fill="#5693cb" stroke="#231f20" stroke-width="1.2" stroke-linejoin="miter"/><path d="M138.87 813L143.57 822L134.17 822Z" fill="#5693cb" stroke="#231f20" stroke-width="1.2" stroke-linejoin="miter"/><path d="M161.93 871.9L166.63 880.9L157.23 880.9Z" fill="#5693cb" stroke="#231f20" stroke-width="1.2" stroke-linejoin="miter"/><path d="M185 871.9L189.7 880.9L180.3 880.9Z" fill="#5693cb" stroke="#231f20" stroke-width="1.2" stroke-linejoin="miter"/><path d="M208.07 871.9L212.77 880.9L203.37 880.9Z" fill="#5693cb" stroke="#231f20" stroke-width="1.2" stroke-linejoin="miter"/><path d="M231.13 871.9L235.83 880.9L226.43 880.9Z" fill="#5693cb" stroke="#231f20" stroke-width="1.2" stroke-linejoin="miter"/><path d="M254.2 871.9L258.9 880.9L249.5 880.9Z" fill="#5693cb" stroke="#231f20" stroke-width="1.2" stroke-linejoin="miter"/><path d="M300.33 871.9L305.03 880.9L295.63 880.9Z" fill="#5693cb" stroke="#231f20" stroke-width="1.2" stroke-linejoin="miter"/><path d="M323.4 813L328.1 822L318.7 822Z" fill="#5693cb" stroke="#231f20" stroke-width="1.2" stroke-linejoin="miter"/><circle cx="46.6" cy="788.26" r="4.8" fill="#7b7c80" stroke="#231f20" stroke-width="1.2"/><circle cx="69.67" cy="788.26" r="4.8" fill="#7b7c80" stroke="#231f20" stroke-width="1.2"/><circle cx="92.73" cy="798.07" r="4.8" fill="#7b7c80" stroke="#231f20" stroke-width="1.2"/><circle cx="115.8" cy="778.44" r="4.8" fill="#7b7c80" stroke="#231f20" stroke-width="1.2"/><circle cx="138.87" cy="778.44" r="4.8" fill="#7b7c80" stroke="#231f20" stroke-width="1.2"/><circle cx="161.93" cy="778.44" r="4.8" fill="#7b7c80" stroke="#231f20" stroke-width="1.2"/><circle cx="185" cy="788.26" r="4.8" fill="#7b7c80" stroke="#231f20" stroke-width="1.2"/><circle cx="208.07" cy="768.62" r="4.8" fill="#7b7c80" stroke="#231f20" stroke-width="1.2"/><circle cx="231.13" cy="778.44" r="4.8" fill="#7b7c80" stroke="#231f20" stroke-width="1.2"/><circle cx="254.2" cy="798.07" r="4.8" fill="#7b7c80" stroke="#231f20" stroke-width="1.2"/><circle cx="300.33" cy="788.26" r="4.8" fill="#7b7c80" stroke="#231f20" stroke-width="1.2"/><circle cx="323.4" cy="778.44" r="4.8" fill="#7b7c80" stroke="#231f20" stroke-width="1.2"/><circle cx="46.6" cy="778.44" r="4.8" fill="#7b7c80" stroke="#231f20" stroke-width="1.2"/><circle cx="69.67" cy="768.62" r="4.8" fill="#7b7c80" stroke="#231f20" stroke-width="1.2"/><circle cx="92.73" cy="778.44" r="4.8" fill="#7b7c80" stroke="#231f20" stroke-width="1.2"/><circle cx="115.8" cy="788.26" r="4.8" fill="#7b7c80" stroke="#231f20" stroke-width="1.2"/><circle cx="138.87" cy="788.26" r="4.8" fill="#7b7c80" stroke="#231f20" stroke-width="1.2"/><circle cx="161.93" cy="660.65" r="4.8" fill="#7b7c80" stroke="#231f20" stroke-width="1.2"/><circle cx="185" cy="807.89" r="4.8" fill="#7b7c80" stroke="#231f20" stroke-width="1.2"/><circle cx="208.07" cy="798.07" r="4.8" fill="#7b7c80" stroke="#231f20" stroke-width="1.2"/><circle cx="231.13" cy="768.62" r="4.8" fill="#7b7c80" stroke="#231f20" stroke-width="1.2"/><circle cx="254.2" cy="778.44" r="4.8" fill="#7b7c80" stroke="#231f20" stroke-width="1.2"/><circle cx="300.33" cy="778.44" r="4.8" fill="#7b7c80" stroke="#231f20" stroke-width="1.2"/><circle cx="323.4" cy="758.81" r="4.8" fill="#7b7c80" stroke="#231f20" stroke-width="1.2"/></g><g><line x1="429.8" y1="655.6" x2="455.4" y2="655.6" stroke="#231f20" stroke-width="1.1"/><path d="M442.6 652L446.4 658.8L438.8 658.8Z" fill="#5693cb" stroke="#231f20" stroke-width="0.9" stroke-linejoin="miter"/><text transform="translate(458 659.2) scale(1 1.04)">Tank 1 (PBSA)</text><line x1="429.8" y1="673.6" x2="455.4" y2="673.6" stroke="#231f20" stroke-width="1.1" stroke-dasharray="3.6 2.3"/><path d="M442.6 670L446.4 676.8L438.8 676.8Z" fill="#5693cb" stroke="#231f20" stroke-width="0.9" stroke-linejoin="miter"/><text transform="translate(458 677.2) scale(1 1.04)">Tank 2 (PBSA)</text><line x1="429.8" y1="691.8" x2="455.4" y2="691.8" stroke="#231f20" stroke-width="1.1"/><circle cx="442.6" cy="691.8" r="3.3" fill="#7b7c80" stroke="#231f20" stroke-width="0.9"/><text transform="translate(458 695.4) scale(1 1.04)">Tank 3 (Ctrl)</text><line x1="429.8" y1="710" x2="455.4" y2="710" stroke="#231f20" stroke-width="1.1" stroke-dasharray="3.6 2.3"/><circle cx="442.6" cy="710" r="3.3" fill="#7b7c80" stroke="#231f20" stroke-width="0.9"/><text transform="translate(458 713.6) scale(1 1.04)">Tank 4 (Ctrl)</text></g></svg>
</body></html>
